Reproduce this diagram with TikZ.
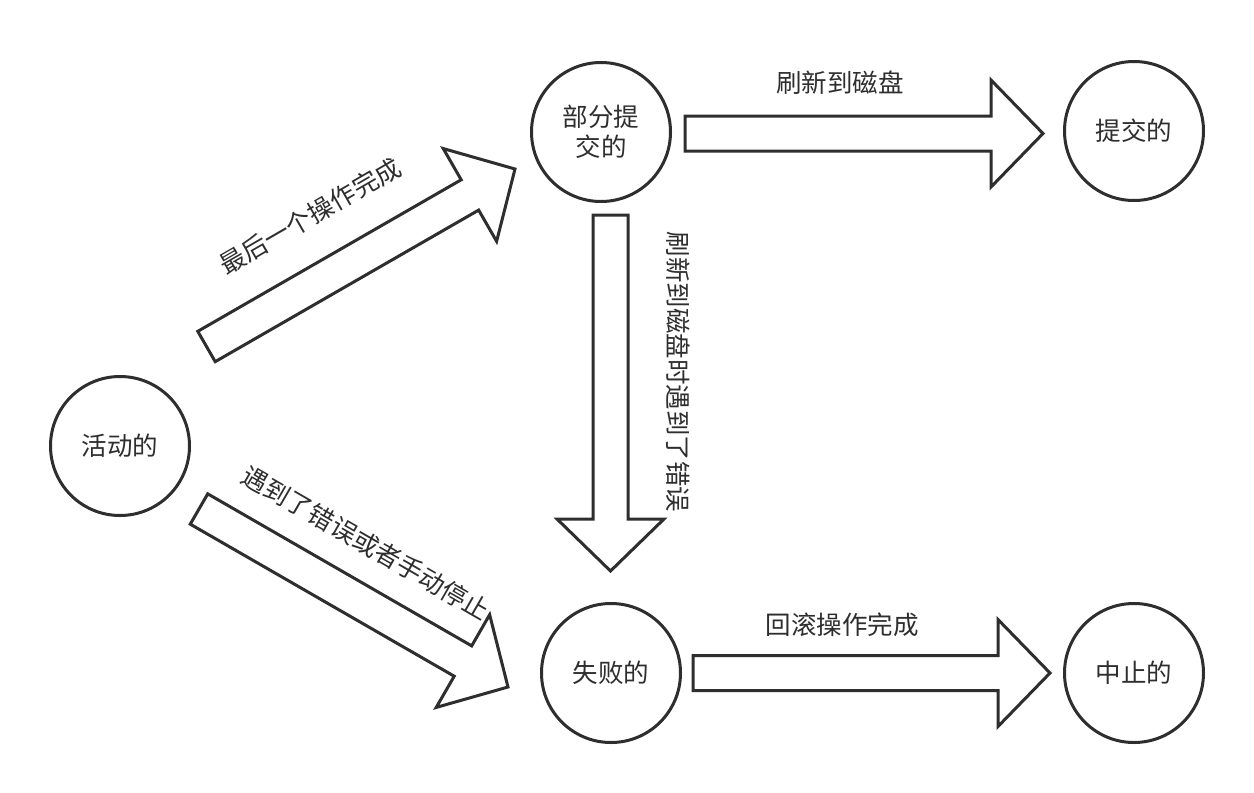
\documentclass[tikz,border=0pt]{standalone}
\usepackage{fontspec}
\setmainfont{Noto Sans CJK SC}
\usetikzlibrary{calc}
\definecolor{ink}{HTML}{2E2E2E}
\newcommand\lbl{\fontsize{25.5}{30}\selectfont}
\newcommand\blockarrow[2]{%
  \coordinate (#1#2b) at ($(#2)!52pt!(#1)$);
  \draw[barrow] ($(#1)!17.5pt!90:(#2)$) -- ($(#1#2b)!17.5pt!90:(#2)$)
    -- ($(#1#2b)!53.5pt!90:(#2)$) -- (#2)
    -- ($(#1#2b)!53.5pt!-90:(#2)$) -- ($(#1#2b)!17.5pt!-90:(#2)$)
    -- ($(#1)!17.5pt!-90:(#2)$) -- cycle;
}
\begin{document}
\begin{tikzpicture}[x=1pt,y=-1pt,
  state/.style={circle, draw=ink, line width=3pt, minimum size=139pt, inner sep=0pt, font=\lbl, align=center, text=ink},
  barrow/.style={draw=ink, line width=3pt, fill=white, line join=miter},
  lab/.style={font=\lbl, text=ink, inner sep=0pt}]
\useasboundingbox[fill=white] (0,0) rectangle (1254,793);
% states
\node[state] (active) at (120,446) {活动的};
\node[state] (partial) at (601,132) {部分提\\交的};
\node[state] (committed) at (1134,131) {提交的};
\node[state] (failed) at (611,673) {失败的};
\node[state] (aborted) at (1134,673) {中止的};
% arrow end points
\coordinate (a1t) at (206.5,346.5); \coordinate (a1h) at (515,169);
\coordinate (a2t) at (199,509);     \coordinate (a2h) at (508,687);
\coordinate (a3t) at (610.5,215);   \coordinate (a3h) at (610.5,571);
\coordinate (a4t) at (685,133.5);   \coordinate (a4h) at (1043,133.5);
\coordinate (a5t) at (693,673);     \coordinate (a5h) at (1050,673);
\blockarrow{a1t}{a1h}
\blockarrow{a2t}{a2h}
\blockarrow{a3t}{a3h}
\blockarrow{a4t}{a4h}
\blockarrow{a5t}{a5h}
% labels
\node[lab, rotate=30] (l1) at (310,216) {最后一个操作完成};
\node[lab, rotate=-30] (l2) at (366,543) {遇到了错误或者手动停止};
\node[lab, rotate=-90] (l3) at (678,372) {刷新到磁盘时遇到了错误};
\node[lab] (l4) at (840,83) {刷新到磁盘};
\node[lab] (l5) at (842,625) {回滚操作完成};
\end{tikzpicture}
\end{document}
